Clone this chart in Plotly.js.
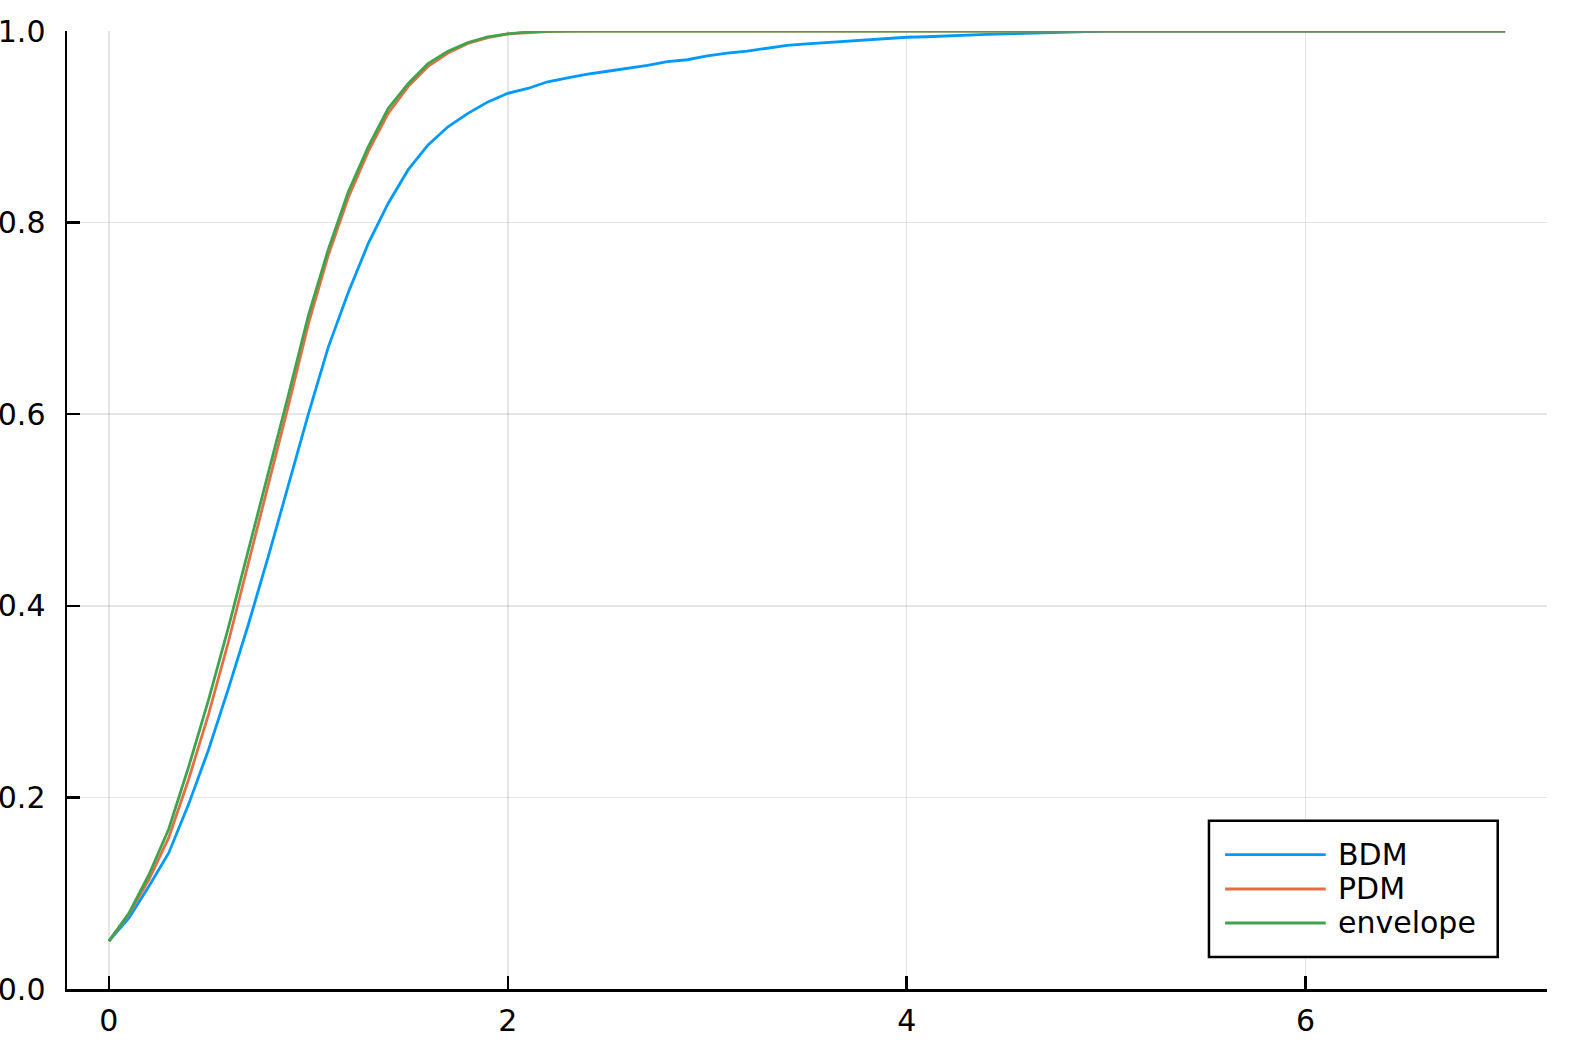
<!DOCTYPE html>
<html>
<head>
<meta charset="utf-8">
<script src="https://cdn.plot.ly/plotly-3.0.1.min.js"></script>
<style>
  html, body { margin: 0; padding: 0; background: #fff; }
  #chart { width: 1578px; height: 1052px; }
</style>
</head>
<body>
<div id="chart"></div>
<script>
// x grid shared by all three curves
const xs = [
  0.0, 0.1, 0.2, 0.3, 0.4, 0.5, 0.6, 0.7, 0.8, 0.9,
  1.0, 1.1, 1.2, 1.3, 1.4, 1.5, 1.6, 1.7, 1.8, 1.9,
  2.0, 2.1, 2.2, 2.3, 2.4, 2.5, 2.6, 2.7, 2.8, 2.9,
  3.0, 3.1, 3.2, 3.3, 3.4, 3.5, 3.6, 3.7, 3.8, 3.9,
  4.0, 4.1, 4.2, 4.3, 4.4, 4.5, 4.6, 4.7, 4.8, 4.9,
  5.0, 5.1, 5.2, 5.3, 5.4, 5.5, 5.6, 5.7, 5.8, 5.9,
  6.0, 6.1, 6.2, 6.3, 6.4, 6.5, 6.6, 6.7, 6.8, 6.9,
  7.0
];

const bdm = [
  0.050, 0.074, 0.107, 0.142, 0.193, 0.250, 0.314, 0.381, 0.452, 0.526,
  0.600, 0.670, 0.727, 0.778, 0.820, 0.855, 0.881, 0.900, 0.914, 0.926,
  0.935, 0.940, 0.947, 0.951, 0.955, 0.958, 0.961, 0.964, 0.968, 0.970,
  0.974, 0.977, 0.979, 0.982, 0.985, 0.9865, 0.988, 0.9895, 0.991, 0.992,
  0.9935, 0.994, 0.995, 0.9958, 0.9965, 0.997, 0.9977, 0.9984, 0.999, 0.9995,
  1.0, 1.0, 1.0, 1.0, 1.0, 1.0, 1.0, 1.0, 1.0, 1.0,
  1.0, 1.0, 1.0, 1.0, 1.0, 1.0, 1.0, 1.0, 1.0, 1.0,
  1.0
];

const pdm = [
  0.050, 0.078, 0.114, 0.158, 0.219, 0.287, 0.363, 0.444, 0.527, 0.609,
  0.694, 0.766, 0.826, 0.874, 0.914, 0.942, 0.963, 0.977, 0.987, 0.993,
  0.997, 0.9985, 0.9995, 1.0, 1.0, 1.0, 1.0, 1.0, 1.0, 1.0,
  1.0, 1.0, 1.0, 1.0, 1.0, 1.0, 1.0, 1.0, 1.0, 1.0,
  1.0, 1.0, 1.0, 1.0, 1.0, 1.0, 1.0, 1.0, 1.0, 1.0,
  1.0, 1.0, 1.0, 1.0, 1.0, 1.0, 1.0, 1.0, 1.0, 1.0,
  1.0, 1.0, 1.0, 1.0, 1.0, 1.0, 1.0, 1.0, 1.0, 1.0,
  1.0
];

const envelope = [
  0.050, 0.079, 0.119, 0.167, 0.232, 0.302, 0.378, 0.458, 0.539, 0.620,
  0.703, 0.772, 0.832, 0.879, 0.919, 0.945, 0.966, 0.979, 0.988, 0.994,
  0.997, 0.999, 0.9996, 1.0, 1.0, 1.0, 1.0, 1.0, 1.0, 1.0,
  1.0, 1.0, 1.0, 1.0, 1.0, 1.0, 1.0, 1.0, 1.0, 1.0,
  1.0, 1.0, 1.0, 1.0, 1.0, 1.0, 1.0, 1.0, 1.0, 1.0,
  1.0, 1.0, 1.0, 1.0, 1.0, 1.0, 1.0, 1.0, 1.0, 1.0,
  1.0, 1.0, 1.0, 1.0, 1.0, 1.0, 1.0, 1.0, 1.0, 1.0,
  1.0
];

const seriesNames = ['BDM', 'PDM', 'envelope'];
const seriesColors = ['#009AFA', '#E36F47', '#3EA44E'];
const xTicks = [0, 2, 4, 6];
const yTicks = [0, 0.2, 0.4, 0.6, 0.8, 1.0];

const font = 'DejaVu Sans, sans-serif';

const data = [bdm, pdm, envelope].map((ys, i) => ({
    x: xs,
    y: ys,
    type: 'scatter',
    mode: 'lines',
    name: seriesNames[i],
    line: { color: seriesColors[i], width: 2.8 },
    showlegend: false
}));

// hand-drawn legend box, like the Plots.jl one (long line samples)
const legendRowsY = [0.1402, 0.1044, 0.0689];
const shapes = [{
    type: 'rect', xref: 'paper', yref: 'paper',
    x0: 0.7716, x1: 0.9667, y0: 0.0334, y1: 0.1757,
    line: { color: '#000', width: 2.5 }, fillcolor: '#fff', layer: 'above'
}];
const annotations = [];
seriesNames.forEach((name, i) => {
    shapes.push({
        type: 'line', xref: 'paper', yref: 'paper',
        x0: 0.7825, x1: 0.8505, y0: legendRowsY[i], y1: legendRowsY[i],
        line: { color: seriesColors[i], width: 2.8 }, layer: 'above'
    });
    annotations.push({
        xref: 'paper', yref: 'paper', x: 0.8574, y: legendRowsY[i],
        xanchor: 'left', yanchor: 'middle', showarrow: false,
        text: name, font: { family: font, size: 30, color: '#000' }
    });
});

const layout = {
    width: 1578,
    height: 1052,
    margin: { l: 67, r: 31, t: 31, b: 63 },
    paper_bgcolor: '#fff',
    plot_bgcolor: '#fff',
    font: { family: font, size: 30, color: '#000' },
    showlegend: false,
    xaxis: {
        range: [-0.21, 7.21],
        tickvals: xTicks,
        ticks: 'inside', ticklen: 13, tickwidth: 2.5, tickcolor: '#000',
        ticklabelstandoff: 3,
        showline: true, linecolor: '#000', linewidth: 2.5,
        showgrid: true, gridcolor: 'rgba(0,0,0,0.1)', gridwidth: 1.5,
        zeroline: false,
        tickfont: { family: font, size: 30, color: '#000' }
    },
    yaxis: {
        range: [0, 1],
        tickvals: yTicks,
        tickformat: '.1f',
        ticks: 'inside', ticklen: 13, tickwidth: 2.5, tickcolor: '#000',
        ticklabelstandoff: 13,
        showline: true, linecolor: '#000', linewidth: 2.5,
        showgrid: true, gridcolor: 'rgba(0,0,0,0.1)', gridwidth: 1.5,
        zeroline: false,
        tickfont: { family: font, size: 30, color: '#000' }
    },
    shapes: shapes,
    annotations: annotations
};

Plotly.newPlot('chart', data, layout, { displayModeBar: false, staticPlot: true });
</script>
</body>
</html>
